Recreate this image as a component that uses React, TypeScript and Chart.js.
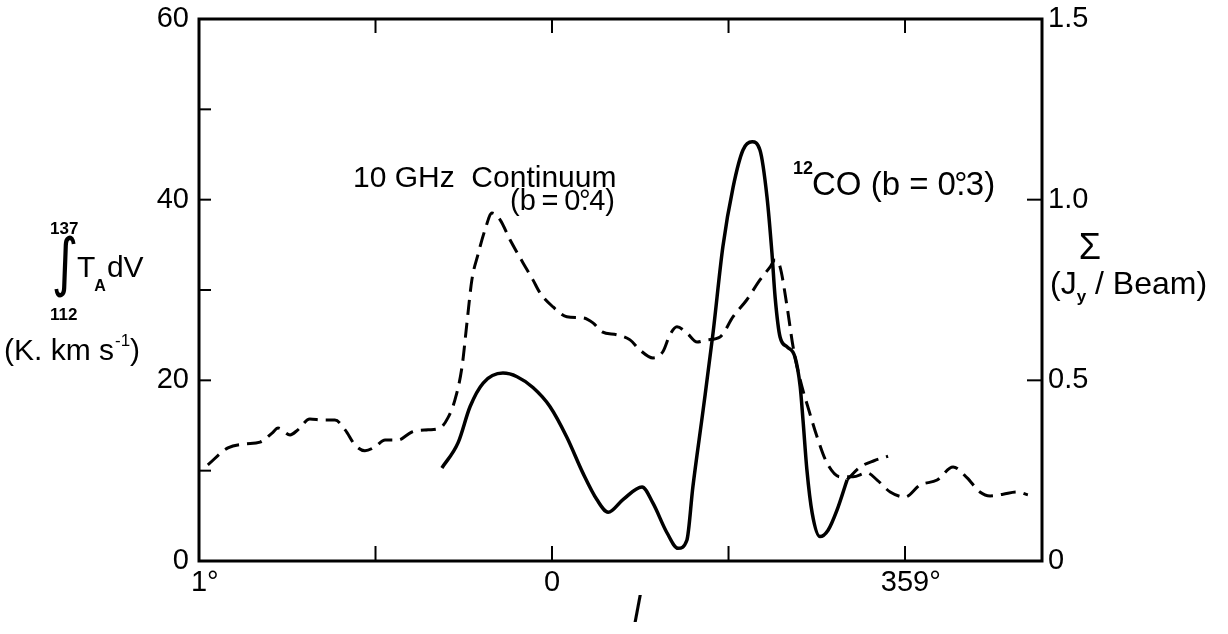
import React, { useEffect, useRef } from "react";
import { Chart, registerables } from "chart.js";

Chart.register(...registerables);

// Galactic longitude offsets in degrees (1 = 1°, 0 = 0°, -1 = 359°)
const continuumL = [
  0.975, 0.918, 0.87, 0.827, 0.793, 0.776, 0.742, 0.72, 0.686, 0.649, 0.615, 0.586, 0.558, 0.53, 0.501,
  0.473, 0.436, 0.397, 0.351, 0.317, 0.295, 0.275, 0.255, 0.241, 0.227, 0.21, 0.19, 0.17, 0.147, 0.119,
  0.082, 0.054, 0.034, -0.003, -0.042, -0.088, -0.116, -0.142, -0.184, -0.221, -0.249, -0.286, -0.314,
  -0.334, -0.354, -0.382, -0.411, -0.439, -0.476, -0.513, -0.552, -0.589, -0.618, -0.632, -0.646, -0.666,
  -0.683, -0.703, -0.725, -0.751, -0.779, -0.816, -0.853, -0.892, -0.921, -0.958, -1.0, -1.042, -1.091,
  -1.136, -1.176, -1.212, -1.241, -1.278, -1.317, -1.348,
];
// 10 GHz continuum, Sigma (Jy/Beam)
const continuumSigma = [
  0.266, 0.313, 0.324, 0.329, 0.354, 0.368, 0.349, 0.363, 0.393, 0.39, 0.39, 0.363, 0.321, 0.305, 0.316,
  0.335, 0.335, 0.357, 0.363, 0.368, 0.396, 0.446, 0.537, 0.659, 0.778, 0.847, 0.916, 0.963, 0.944, 0.889,
  0.825, 0.778, 0.742, 0.703, 0.676, 0.673, 0.659, 0.634, 0.626, 0.612, 0.584, 0.562, 0.579,
  0.626, 0.648, 0.631, 0.606, 0.612, 0.62, 0.676, 0.723, 0.778, 0.814, 0.833, 0.814, 0.703,
  0.592, 0.501, 0.426, 0.343, 0.271, 0.233, 0.233, 0.244, 0.224, 0.191, 0.177, 0.21, 0.224,
  0.26, 0.23, 0.191, 0.18, 0.185, 0.191, 0.183,
];
// 12CO integrated intensity (K km/s)
const coL = [
  0.312, 0.266, 0.232, 0.195, 0.139, 0.099, 0.054, 0.006, -0.042, -0.088, -0.127, -0.159, -0.201, -0.255,
  -0.286, -0.326, -0.357, -0.382, -0.399, -0.428, -0.456, -0.484, -0.513, -0.541, -0.567, -0.589, -0.609,
  -0.623, -0.632, -0.646, -0.666, -0.688, -0.703, -0.711, -0.722, -0.737, -0.759, -0.782, -0.807, -0.836,
];
const coT = [
  10.3, 13.1, 17.1, 19.7, 20.8, 20.4, 19.2, 17.1, 13.7, 9.7, 6.8, 5.4, 6.8, 8.2,
  6.4, 3.1, 1.4, 2.3, 8.2, 16.7, 25.2, 34.8, 41.4, 45.5, 46.4, 45.5, 40.3,
  34.1, 29.2, 24.8, 23.7, 22.6, 19.3, 15.6, 10.1, 5.3, 2.7, 3.4, 5.6, 9.0,
];
// dashed continuation of the 12CO curve
const coExtL = [-0.836, -0.873, -0.912, -0.952];
const coExtT = [9.0, 10.4, 11.1, 11.6];

const leftTicks = [0, 10, 20, 30, 40, 50, 60];
const leftTickLabels = ["0", "", "20", "", "40", "", "60"];
const rightTicks = [0, 0.5, 1.0, 1.5];
const rightTickLabels = ["0", "0.5", "1.0", "1.5"];
const xTicks = [1, 0.5, 0, -0.5, -1];
const xTickLabels = ["1°", "", "0", "", "359°"];

const FONT = '"Liberation Sans", Arial, sans-serif';

function pts(xs: number[], ys: number[]) {
  return xs.map((x, i) => ({ x, y: ys[i] }));
}

function setFont(ctx: CanvasRenderingContext2D, size: number, extra = "") {
  ctx.font = `${extra} ${size}px ${FONT}`;
}

function draw(ctx: CanvasRenderingContext2D, s: string, x: number, y: number, size: number, extra = "") {
  setFont(ctx, size, extra);
  ctx.fillText(s, x, y);
  return ctx.measureText(s).width;
}

function drawDegDot(ctx: CanvasRenderingContext2D, pre: string, post: string, x: number, y: number, size: number) {
  let cx = x;
  cx += draw(ctx, pre, cx, y, size);
  setFont(ctx, size);
  const wd = ctx.measureText("°").width;
  const wp = ctx.measureText(".").width;
  const w = Math.max(wd, wp) * 0.75;
  ctx.fillText("°", cx + (w - wd) / 2, y);
  ctx.fillText(".", cx + (w - wp) / 2, y);
  cx += w;
  draw(ctx, post, cx, y, size);
}

const decorPlugin = {
  id: "decor",
  afterDraw(chart: any) {
    const { ctx, chartArea: a, scales } = chart;
    ctx.save();
    ctx.strokeStyle = "#000";
    ctx.fillStyle = "#000";
    ctx.lineWidth = 3;
    ctx.strokeRect(a.left, a.top, a.right - a.left, a.bottom - a.top);
    ctx.lineWidth = 2;
    const line = (x1: number, y1: number, x2: number, y2: number) => {
      ctx.beginPath();
      ctx.moveTo(x1, y1);
      ctx.lineTo(x2, y2);
      ctx.stroke();
    };
    for (const v of leftTicks) {
      const y = scales.y.getPixelForValue(v);
      line(a.left, y, a.left + 12, y);
    }
    for (const v of rightTicks) {
      const y = scales.y1.getPixelForValue(v);
      line(a.right - 15, y, a.right, y);
    }
    for (const v of xTicks) {
      const x = scales.x.getPixelForValue(v);
      line(x, a.bottom, x, a.bottom - 15);
      line(x, a.top, x, a.top + 14);
    }

    // y tick labels
    ctx.textBaseline = "middle";
    ctx.textAlign = "right";
    leftTicks.forEach((v, i) => {
      if (!leftTickLabels[i]) return;
      draw(ctx, leftTickLabels[i], a.left - 10, scales.y.getPixelForValue(v), 29);
    });
    ctx.textAlign = "left";
    rightTicks.forEach((v, i) => {
      draw(ctx, rightTickLabels[i], a.right + 6, scales.y1.getPixelForValue(v), 29);
    });

    // x tick labels: number centred on tick, degree sign after
    xTicks.forEach((v, i) => {
      const lab = xTickLabels[i];
      if (!lab) return;
      const x = scales.x.getPixelForValue(v);
      setFont(ctx, 29);
      const num = lab.replace("°", "");
      const wn = ctx.measureText(num).width;
      ctx.fillText(lab, x - wn / 2, a.bottom + 22);
    });

    ctx.textBaseline = "alphabetic";
    // x axis title
    ctx.textAlign = "center";
    draw(ctx, "l", 637, 622, 36, "italic");
    ctx.textAlign = "left";

    // left axis title
    draw(ctx, "137", 50, 234, 17, "bold");
    draw(ctx, "112", 50, 320, 17, "bold");
    ctx.save();
    ctx.font = `40px "DejaVu Sans"`;
    const m = ctx.measureText("∫");
    const h = m.actualBoundingBoxAscent + m.actualBoundingBoxDescent;
    const wI = m.actualBoundingBoxLeft + m.actualBoundingBoxRight;
    const sy = 64 / h;
    const sx = 22 / wI;
    ctx.translate(54 + m.actualBoundingBoxLeft * sx, 234 + m.actualBoundingBoxAscent * sy);
    ctx.scale(sx, sy);
    ctx.fillText("∫", 0, 0);
    ctx.restore();
    let cx = 77;
    cx += draw(ctx, "T", cx, 277, 30);
    cx += draw(ctx, "A", cx - 1, 291, 16, "bold") - 1;
    draw(ctx, "dV", cx + 1, 277, 30);
    cx = 4;
    cx += draw(ctx, "(K. km s", cx, 360, 30);
    cx += draw(ctx, "-1", cx + 1, 346, 17) + 1;
    draw(ctx, ")", cx, 360, 30);

    // right axis title
    ctx.textAlign = "center";
    draw(ctx, "Σ", 1090, 259, 36);
    ctx.textAlign = "left";
    cx = 1050;
    cx += draw(ctx, "(J", cx, 294, 32);
    cx += draw(ctx, "y", cx, 302, 17, "bold");
    draw(ctx, " / Beam)", cx, 294, 32);

    // curve annotations
    draw(ctx, "10 GHz  Continuum", 353, 187, 30);
    drawDegDot(ctx, "(b\u2009=\u20090", "4)", 510, 210, 29);
    draw(ctx, "12", 793, 174, 18, "bold");
    drawDegDot(ctx, "CO (b = 0", "3)", 812, 195, 33);

    ctx.restore();
  },
};

export default function App() {
  const ref = useRef<HTMLCanvasElement | null>(null);
  useEffect(() => {
    if (!ref.current) return;
    const chart = new Chart(ref.current, {
      type: "line",
      data: {
        datasets: [
          {
            label: "10 GHz Continuum (b = 0.4°)",
            data: pts(continuumL, continuumSigma),
            yAxisID: "y1",
            borderColor: "#000",
            borderWidth: 3,
            borderDash: [15, 8],
            pointRadius: 0,
            cubicInterpolationMode: "monotone",
            fill: false,
          },
          {
            label: "12CO (b = 0.3°)",
            data: pts(coL, coT),
            yAxisID: "y",
            borderColor: "#000",
            borderWidth: 3.5,
            pointRadius: 0,
            cubicInterpolationMode: "monotone",
            fill: false,
          },
          {
            label: "12CO continuation",
            data: pts(coExtL, coExtT),
            yAxisID: "y",
            borderColor: "#000",
            borderWidth: 3,
            borderDash: [15, 8],
            pointRadius: 0,
            cubicInterpolationMode: "monotone",
            fill: false,
          },
        ],
      },
      options: {
        animation: false,
        responsive: false,
        devicePixelRatio: 1,
        layout: { padding: { top: 19, left: 0, right: 0, bottom: 0 }, autoPadding: false },
        plugins: { legend: { display: false }, tooltip: { enabled: false } },
        scales: {
          x: {
            type: "linear",
            min: -1.388,
            max: 1,
            reverse: true,
            grid: { display: false, drawTicks: false },
            border: { display: false },
            ticks: { display: false },
            afterFit: (s: any) => {
              s.height = 73;
            },
          },
          y: {
            type: "linear",
            position: "left",
            min: 0,
            max: 60,
            grid: { display: false, drawTicks: false },
            border: { display: false },
            ticks: { display: false, stepSize: 10 },
            afterFit: (s: any) => {
              s.width = 199;
            },
          },
          y1: {
            type: "linear",
            position: "right",
            min: 0,
            max: 1.5,
            grid: { display: false, drawTicks: false },
            border: { display: false },
            ticks: { display: false, stepSize: 0.5 },
            afterFit: (s: any) => {
              s.width = 186;
            },
          },
        },
      } as any,
      plugins: [decorPlugin],
    });
    return () => chart.destroy();
  }, []);
  return (
    <div style={{ position: "fixed", left: 0, top: 0, width: 1228, height: 634, background: "#fff" }}>
      <canvas ref={ref} width={1228} height={634} style={{ display: "block" }} />
    </div>
  );
}
